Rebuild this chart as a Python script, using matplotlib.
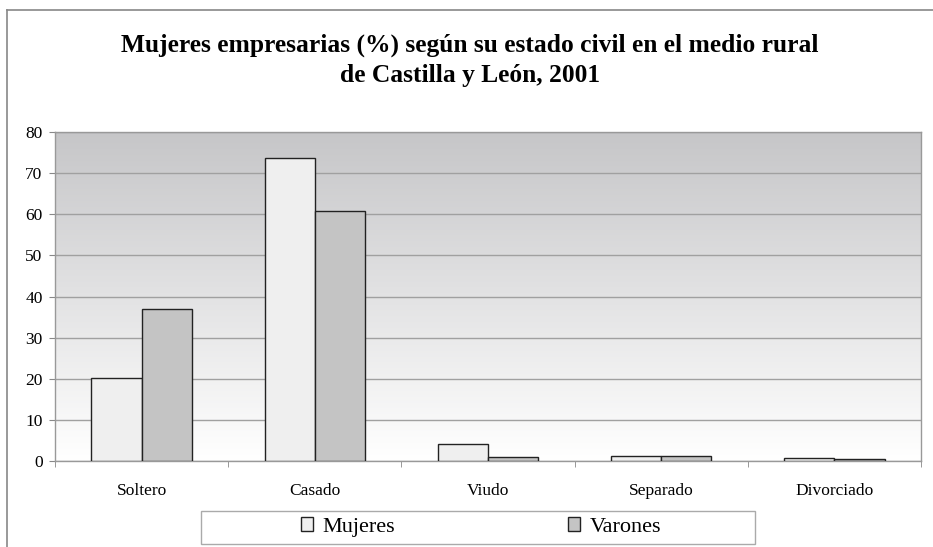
import numpy as np
import matplotlib.pyplot as plt
from matplotlib.patches import Rectangle, Patch
from matplotlib.lines import Line2D
from matplotlib.colors import LinearSegmentedColormap

plt.rcParams['font.family'] = ['Liberation Serif', 'DejaVu Serif']

categorias = ['Soltero', 'Casado', 'Viudo', 'Separado', 'Divorciado']
mujeres = [20.2, 73.6, 4.1, 1.3, 0.7]
varones = [37.0, 60.8, 1.0, 1.1, 0.4]
series = ['Mujeres', 'Varones']
titulo = 'Mujeres empresarias (%) según su estado civil en el medio rural\nde Castilla y León, 2001'

fig = plt.figure(figsize=(9.33, 5.47), dpi=100)
ax = fig.add_axes([0.0590, 0.1572, 0.9281, 0.6015])

# fondo degradado
fondo = LinearSegmentedColormap.from_list('fondo', ['#ffffff', '#c6c6c8'])
grad = np.linspace(1, 0, 256).reshape(-1, 1)
ax.imshow(grad, extent=[0, 5, 0, 80], aspect='auto', cmap=fondo, zorder=0)

x = np.arange(len(categorias)) + 0.5
w = 0.29
ax.bar(x - w / 2, mujeres, w, color='#efefef', edgecolor='#222222', linewidth=1.0, zorder=3)
ax.bar(x + w / 2, varones, w, color='#c4c4c4', edgecolor='#222222', linewidth=1.0, zorder=3)

ax.set_xlim(0, 5)
ax.set_ylim(0, 80)
ax.set_yticks(range(0, 81, 10))
ax.set_xticks(x)
ax.set_xticklabels(categorias, fontsize=12.5)
ax.set_xticks(range(0, 6), minor=True)
ax.tick_params(axis='x', which='major', length=0, pad=16)
ax.tick_params(axis='x', which='minor', length=4, color='#888888')
ax.tick_params(axis='y', length=4, color='#888888', labelsize=12.5, pad=5)
ax.yaxis.grid(True, color='#a0a0a0', linewidth=1.0, zorder=1)
ax.set_axisbelow(True)
for s in ['left', 'bottom', 'top', 'right']:
    ax.spines[s].set_color('#999999')
    ax.spines[s].set_linewidth(1.0)

fig.text(0.504, 0.890, titulo, ha='center', va='center', fontsize=18.4,
         fontweight='bold', linespacing=1.4)

# marco exterior
fig.add_artist(Line2D([7 / 933, 7 / 933], [0, 1 - 10 / 547], color='#888888', lw=1.2))
fig.add_artist(Line2D([7 / 933, 1], [1 - 10 / 547, 1 - 10 / 547], color='#888888', lw=1.2))

# leyenda
fig.add_artist(Rectangle((201 / 933, 3 / 547), 554 / 933, 33 / 547, transform=fig.transFigure,
                         fill=False, edgecolor='#aaaaaa', lw=1.0))
handles = [Patch(facecolor='#efefef', edgecolor='#222222'),
           Patch(facecolor='#c4c4c4', edgecolor='#222222')]
fig.legend(handles, series, loc='center', bbox_to_anchor=(481 / 933, 20 / 547), ncol=2,
           frameon=False, fontsize=16, handlelength=0.55, handleheight=0.55,
           handletextpad=0.4, columnspacing=7.8)

fig.savefig('out.png', dpi=100)
